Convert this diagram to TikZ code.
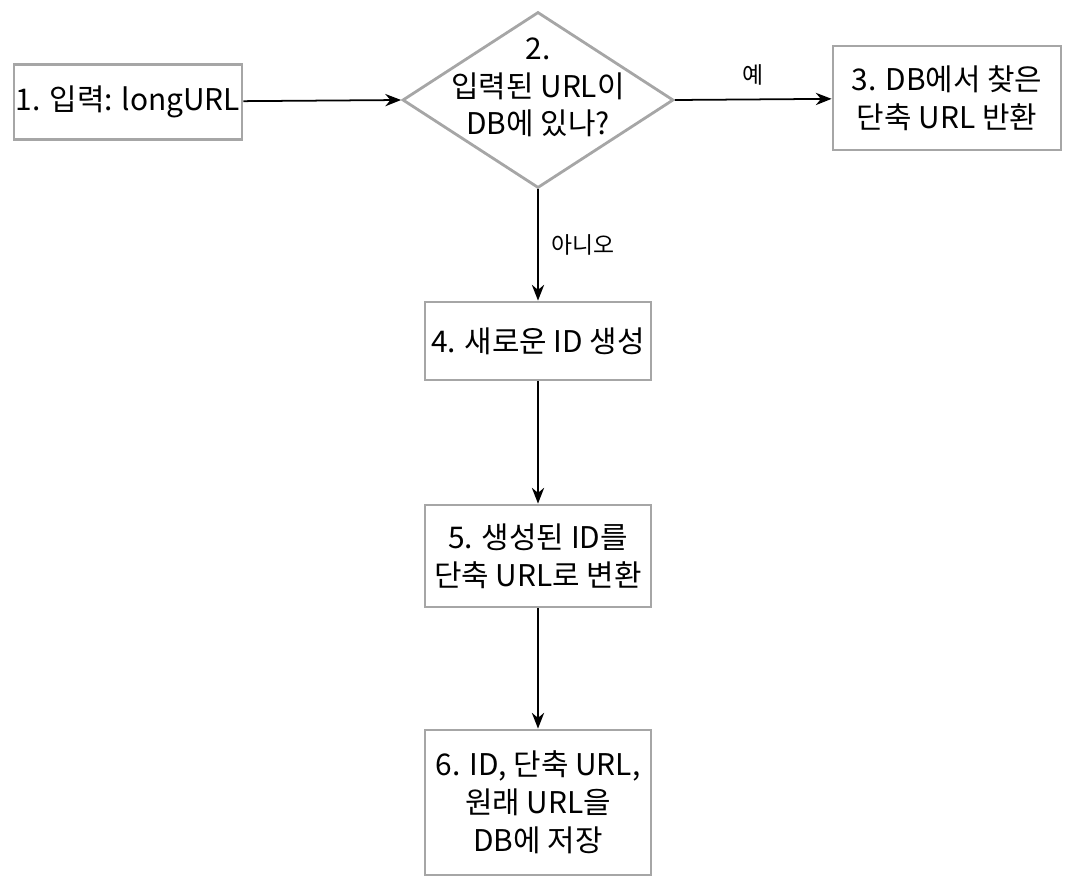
\documentclass[tikz,border=0pt]{standalone}
\usepackage{fontspec}
\setmainfont{Noto Sans CJK KR}
\usetikzlibrary{shapes.geometric, positioning, arrows.meta}
\tikzset{
	stage/.style={draw=gray!70, line width=1.6pt, align=center, font=\fontsize{17}{21.5}\selectfont, inner sep=0pt},
	choice/.style={diamond, draw=gray!70, line width=1.6pt, inner sep=0pt, minimum width=5.42cm, minimum height=3.52cm},
	flow/.style={-{Stealth[length=9pt,width=7pt]}, line width=1pt},
	tag/.style={font=\fontsize{13}{16}\selectfont}
}
\begin{document}
\begin{tikzpicture}
	\useasboundingbox (0,0) rectangle (21.42,-17.78);
	
	\node[stage, minimum width=4.56cm, minimum height=1.5cm] (input) at (2.56,-2.04) {1. 입력: longURL};
	\node[choice] (check) at (10.76,-2.0) {};
	\node[align=center, font=\fontsize{17}{21.5}\selectfont] (checktxt) at (10.76,-1.75) {2.\\입력된 URL이\\DB에 있나?};
	\node[stage, minimum width=4.56cm, minimum height=2.08cm] (found) at (18.94,-1.96) {3. DB에서 찾은\\단축 URL 반환};
	\node[stage, minimum width=4.52cm, minimum height=1.56cm] (newid) at (10.76,-6.82) {4. 새로운 ID 생성};
	\node[stage, minimum width=4.52cm, minimum height=2.04cm] (convert) at (10.76,-11.12) {5. 생성된 ID를\\단축 URL로 변환};
	\node[stage, minimum width=4.52cm, minimum height=2.9cm] (store) at (10.76,-16.05) {6. ID, 단축 URL,\\원래 URL을\\DB에 저장};
	
	\draw[flow] (input) -- (check.west);
	\draw[flow] (check.east) -- node[tag, above=4pt] (yes) {예} (found);
	\draw[flow] (check.south) -- node[tag, right=4pt] (no) {아니오} (newid);
	\draw[flow] (newid) -- (convert);
	\draw[flow] (convert) -- (store);
\end{tikzpicture}
\end{document}
